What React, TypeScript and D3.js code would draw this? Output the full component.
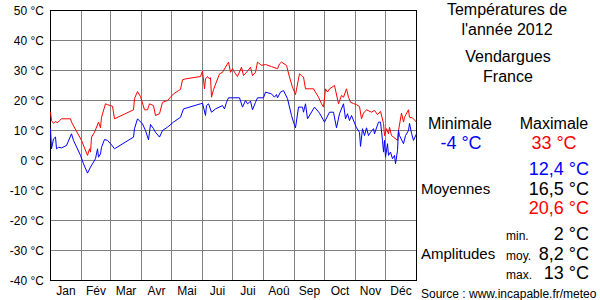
import React from "react";
import * as d3 from "d3";

// Month boundaries (day of year, 2012 leap year) and labels
const monthStarts = [0, 31, 60, 91, 121, 152, 182, 213, 244, 274, 305, 335, 366];
const monthLabels = ["Jan", "Fév", "Mar", "Avr", "Mai", "Jui", "Jui", "Aoû", "Sep", "Oct", "Nov", "Déc"];
const yTicks = [50, 40, 30, 20, 10, 0, -10, -20, -30, -40];

// Daily maximum temperatures [day, °C]
const maxSeries: [number, number][] = [
  [0, 16.1], [1, 13.3], [3, 12.4], [5, 13], [7, 12.6], [9, 13.3], [11, 13.9], [20, 13.9], [21, 12.8],
  [31, 6.7], [37, 1.7], [39, 3.9], [40, 2.8], [41, 7.8], [44, 9.4], [48, 12.8], [50, 10.9], [51, 14.4],
  [55, 18.9], [57, 18.6], [60, 18.3], [62, 18.1], [64, 13.9], [83, 16.9], [84, 20.6], [87, 23], [90, 21.3],
  [94, 16.9], [97, 16.9], [99, 18.9], [103, 18.3], [105, 15], [109, 15.6], [112, 19.4], [117, 20],
  [123, 22.2], [130, 23.7], [132, 26.9], [135, 27.2], [150, 28], [152, 29.8], [154, 23.9], [155, 27.2],
  [157, 28], [159, 27.2], [160, 27.6], [161, 21.1], [163, 23.6], [169, 28.9], [172, 29.4], [178, 32.8],
  [180, 29.4], [182, 30.6], [184, 29.4], [187, 28], [191, 31.1], [193, 28.3], [197, 29.8], [200, 31.1],
  [202, 28.3], [205, 29.4], [207, 32.8], [211, 31.7], [215, 32], [221, 31.3], [227, 30.6], [229, 32.2],
  [231, 32.8], [236, 31.7], [239, 27.8], [242, 24.4], [245, 22], [249, 28.9], [251, 28.3], [253, 27.8],
  [255, 23.9], [263, 23.9], [268, 21.1], [271, 18.9], [273, 17.8], [275, 23.9], [277, 22.8], [279, 23.9],
  [284, 25], [288, 18.9], [291, 21.7], [293, 21.1], [296, 23.9], [298, 21.1], [300, 19.4], [303, 19],
  [306, 18.6], [309, 18], [311, 13.9], [313, 15.8], [316, 16.9], [321, 16.1], [324, 16.7], [327, 15.3],
  [330, 16.4], [333, 12.4], [334, 8.3], [336, 10.6], [338, 8.9], [339, 11.1], [341, 8.3], [343, 7.8],
  [347, 6.7], [348, 10], [351, 15.8], [353, 12.8], [354, 14.4], [358, 16.9], [359, 14.4], [362, 14.2],
  [366, 12.8],
];

// Daily minimum temperatures [day, °C]
const minSeries: [number, number][] = [
  [0, 10.6], [1, 3.9], [3, 7.2], [5, 7.8], [6, 3.9], [8, 4.4], [11, 4.2], [16, 5], [21, 8.9], [23, 6.7],
  [30, 1.7], [33, -1.1], [37, -4.2], [40, -2.2], [45, 0.6], [47, 3.9], [48, 1.1], [50, 2.2], [51, 4.4],
  [54, 7], [57, 6.7], [61, 5.2], [64, 3.9], [83, 7.8], [84, 10.6], [87, 13.9], [92, 12.2], [95, 10],
  [98, 6.9], [100, 12], [103, 10.6], [105, 9.4], [109, 7.8], [112, 10], [117, 11.1], [123, 12.8],
  [130, 14.4], [133, 17.2], [150, 18.9], [152, 19.1], [155, 15], [156, 18.3], [158, 18.9], [161, 16.1],
  [165, 17.2], [172, 18.3], [174, 17.2], [176, 19.4], [178, 20.9], [189, 20.9], [192, 17.8], [195, 20],
  [197, 18.9], [199, 19.4], [200, 19.8], [202, 16.9], [205, 19.4], [207, 20.9], [213, 20.9], [215, 22.8],
  [221, 22.2], [224, 21.1], [226, 22], [227, 20.9], [230, 22.8], [233, 23.3], [237, 20.6], [241, 15],
  [243, 12.8], [245, 10.9], [248, 17.8], [252, 17.8], [253, 16.1], [255, 18.9], [257, 13.9], [264, 17.8],
  [269, 15.8], [274, 12.8], [279, 16.1], [283, 16.1], [286, 10.9], [289, 15.6], [293, 18.9], [295, 13.9],
  [297, 15.6], [299, 13.3], [301, 15], [306, 10.9], [309, 9.4], [310, 4.7], [312, 10.6], [314, 8.3],
  [316, 10.9], [318, 8.3], [320, 9.4], [323, 10.6], [324, 8.9], [328, 12.8], [330, 12.8], [332, 6.7],
  [333, 2.8], [334, 6.7], [335, 1.1], [337, 5.6], [338, 1.7], [340, 2.8], [342, 0.6], [344, 1.7],
  [345, -1.1], [347, 3.3], [348, 10], [349, 8.3], [353, 5.6], [355, 8.3], [358, 10], [359, 12.4],
  [361, 9.1], [363, 6.7], [366, 8.9],
];

const titleLines = ["Températures de", "l'année 2012"];
const placeLines = ["Vendargues", "France"];
const minValue = "-4 °C";
const maxValue = "33 °C";
const averages = ["12,4 °C", "16,5 °C", "20,6 °C"];
const amplitudeLabels = ["min.", "moy.", "max."];
const amplitudes = ["2 °C", "8,2 °C", "13 °C"];
const sourceText = "Source : www.incapable.fr/meteo";

const FONT = "'Liberation Sans', Arial, Helvetica, sans-serif";

export default function App() {
  const x = d3.scaleLinear().domain([0, 366]).range([50.5, 416.5]);
  const y = d3.scaleLinear().domain([-40, 50]).range([280.5, 10.5]);
  const line = d3
    .line<[number, number]>()
    .x((d) => x(d[0]))
    .y((d) => y(d[1]));

  const avgColors = ["#0000ff", "#000000", "#ff0000"];

  return (
    <svg
      width={600}
      height={300}
      style={{ position: "absolute", left: 0, top: 0, background: "#fff" }}
      fontFamily={FONT}
    >
      <rect x={0} y={0} width={600} height={300} fill="#fff" />
      {/* grid */}
      {yTicks.map((t) => (
        <line key={"gy" + t} x1={x(0)} x2={x(366)} y1={y(t)} y2={y(t)} stroke="#808080" strokeWidth={1} />
      ))}
      {monthStarts.map((m) => (
        <line key={"gx" + m} x1={x(m)} x2={x(m)} y1={y(50)} y2={y(-40)} stroke="#808080" strokeWidth={1} />
      ))}
      {/* frame */}
      <rect x={x(0)} y={y(50)} width={x(366) - x(0)} height={y(-40) - y(50)} fill="none" stroke="#000" strokeWidth={1} />
      {/* y labels */}
      {yTicks.map((t) => (
        <text key={"yl" + t} x={44} y={y(t) + 4.5} fontSize={12} textAnchor="end" fill="#000">
          {`${t} °C`}
        </text>
      ))}
      {/* month labels */}
      {monthLabels.map((m, i) => (
        <text
          key={"ml" + i}
          x={(x(monthStarts[i]) + x(monthStarts[i + 1])) / 2}
          y={295}
          fontSize={12}
          textAnchor="middle"
          fill="#000"
        >
          {m}
        </text>
      ))}
      {/* series */}
      <path d={line(maxSeries) || ""} fill="none" stroke="#ff0000" strokeWidth={1} />
      <path d={line(minSeries) || ""} fill="none" stroke="#0000ff" strokeWidth={1} />

      {/* right panel */}
      <text x={507} y={15} fontSize={16} textAnchor="middle">{titleLines[0]}</text>
      <text x={507} y={35} fontSize={16} textAnchor="middle">{titleLines[1]}</text>
      <text x={508} y={62} fontSize={16} textAnchor="middle">{placeLines[0]}</text>
      <text x={508} y={82} fontSize={16} textAnchor="middle">{placeLines[1]}</text>

      <text x={460} y={129} fontSize={16} textAnchor="middle">Minimale</text>
      <text x={554} y={129} fontSize={16} textAnchor="middle">Maximale</text>
      <text x={461} y={149} fontSize={18} textAnchor="middle" fill="#0000ff">{minValue}</text>
      <text x={554} y={149} fontSize={18} textAnchor="middle" fill="#ff0000">{maxValue}</text>

      {averages.map((a, i) => (
        <text key={"av" + i} x={589} y={175 + i * 19.5} fontSize={18} textAnchor="end" fill={avgColors[i]}>
          {a}
        </text>
      ))}
      <text x={421} y={194} fontSize={15}>Moyennes</text>

      {amplitudes.map((a, i) => (
        <g key={"am" + i}>
          <text x={506} y={240 + i * 19.5} fontSize={12}>{amplitudeLabels[i]}</text>
          <text x={589} y={240 + i * 19.5} fontSize={18} textAnchor="end">{a}</text>
        </g>
      ))}
      <text x={421} y={259} fontSize={15}>Amplitudes</text>
      <text x={421} y={298} fontSize={12}>{sourceText}</text>
    </svg>
  );
}
